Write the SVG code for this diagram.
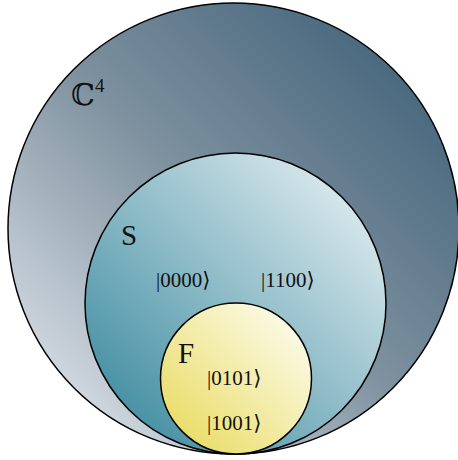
<svg xmlns="http://www.w3.org/2000/svg" width="458" height="460" viewBox="0 0 458 460">
  <defs>
    <linearGradient id="gOuter" x1="0.15" y1="0.85" x2="0.85" y2="0.15">
      <stop offset="0" stop-color="#cdd5dd"/>
      <stop offset="0.5" stop-color="#7e919f"/>
      <stop offset="1" stop-color="#4b6a80"/>
    </linearGradient>
    <linearGradient id="gMid" x1="0.15" y1="0.85" x2="0.85" y2="0.15">
      <stop offset="0" stop-color="#4a93a6"/>
      <stop offset="1" stop-color="#d3e5ea"/>
    </linearGradient>
    <linearGradient id="gIn" x1="0.15" y1="0.85" x2="0.85" y2="0.15">
      <stop offset="0" stop-color="#ebde6e"/>
      <stop offset="1" stop-color="#fbf9e2"/>
    </linearGradient>
    <style>
      .set { stroke: #000; stroke-width: 1.5; }
      .lbl { font-family: "Liberation Serif", "DejaVu Serif", serif; fill: #111; }
      .big { font-size: 29px; }
      .ket { font-size: 21px; }
    </style>
  </defs>
  <g id="C4">
    <circle class="set" cx="233.5" cy="228.5" r="225.5" fill="url(#gOuter)"/>
    <text class="lbl" x="71" y="105" font-family="DejaVu Serif" font-size="30">ℂ<tspan font-size="19" dy="-13">4</tspan></text>
  </g>
  <g id="S">
    <circle class="set" cx="235.5" cy="303.5" r="150.5" fill="url(#gMid)"/>
    <text class="lbl big" x="121" y="245">S</text>
    <text class="lbl ket" x="156" y="287">|0000⟩</text>
    <text class="lbl ket" x="261" y="287">|1100⟩</text>
  </g>
  <g id="F">
    <circle class="set" cx="236" cy="378.5" r="75.5" fill="url(#gIn)"/>
    <text class="lbl big" x="178" y="363">F</text>
    <text class="lbl ket" x="207" y="385">|0101⟩</text>
    <text class="lbl ket" x="207" y="430">|1001⟩</text>
  </g>
  <g id="connectors"></g>
</svg>
